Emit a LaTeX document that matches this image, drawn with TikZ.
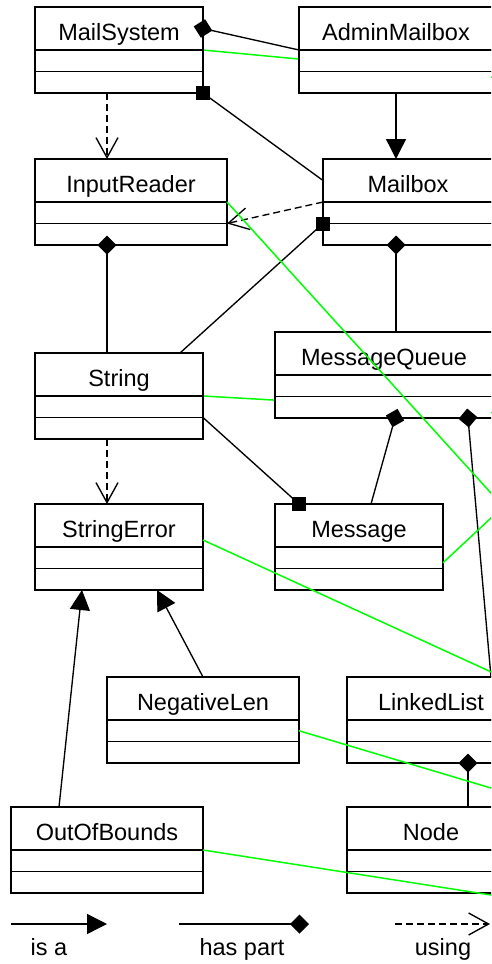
\documentclass[tikz,border=0pt]{standalone}
\usepackage{fontspec}
\setmainfont{Liberation Sans}
\usetikzlibrary{positioning,arrows.meta,backgrounds}

\begin{document}
\begin{tikzpicture}[x=1pt,y=-1pt,line width=1.35pt,font=\fontsize{23.5pt}{28pt}\selectfont,
    class/.style={draw,fill=white,inner sep=0pt,outer sep=0pt,minimum height=43pt,anchor=north west,text height=23pt,text depth=0pt},
    part/.style={draw,fill=white,inner sep=0pt,outer sep=0pt,minimum height=21.5pt},
    link/.style={green,line width=1.5pt},
    isa/.style={-{Triangle[length=20pt,width=20pt]}},
    partof/.style={-{Diamond[length=19pt,width=19pt]},shorten >=-9.5pt},
    sqtip/.style={fill=black,inner sep=0pt,minimum size=14pt,rectangle},
    uses/.style={dash pattern=on 7pt off 4pt,-{Straight Barb[length=20pt,width=22pt]}}]
      \useasboundingbox (0,0) rectangle (491,964);
      \clip (0,0) rectangle (491,964);

      \node[class,minimum width=168pt] (mailsys) at (35,7) {MailSystem};
      \node[part,minimum width=168pt,below=0pt of mailsys] (mailsys-at) {};
      \node[part,minimum width=168pt,below=0pt of mailsys-at] (mailsys-op) {};
      \node[class,minimum width=194pt] (admin) at (299,7) {AdminMailbox};
      \node[part,minimum width=194pt,below=0pt of admin] (admin-at) {};
      \node[part,minimum width=194pt,below=0pt of admin-at] (admin-op) {};
      \node[class,minimum width=192pt] (inread) at (35,159) {InputReader};
      \node[part,minimum width=192pt,below=0pt of inread] (inread-at) {};
      \node[part,minimum width=192pt,below=0pt of inread-at] (inread-op) {};
      \node[class,minimum width=170pt] (mbox) at (323,159) {Mailbox};
      \node[part,minimum width=170pt,below=0pt of mbox] (mbox-at) {};
      \node[part,minimum width=170pt,below=0pt of mbox-at] (mbox-op) {};
      \node[class,minimum width=168pt] (string) at (35,353) {String};
      \node[part,minimum width=168pt,below=0pt of string] (string-at) {};
      \node[part,minimum width=168pt,below=0pt of string-at] (string-op) {};
      \node[class,minimum width=218pt] (mqueue) at (275,332) {MessageQueue};
      \node[part,minimum width=218pt,below=0pt of mqueue] (mqueue-at) {};
      \node[part,minimum width=218pt,below=0pt of mqueue-at] (mqueue-op) {};
      \node[class,minimum width=168pt] (strerr) at (35,504) {StringError};
      \node[part,minimum width=168pt,below=0pt of strerr] (strerr-at) {};
      \node[part,minimum width=168pt,below=0pt of strerr-at] (strerr-op) {};
      \node[class,minimum width=168pt] (msg) at (275,504) {Message};
      \node[part,minimum width=168pt,below=0pt of msg] (msg-at) {};
      \node[part,minimum width=168pt,below=0pt of msg-at] (msg-op) {};
      \node[class,minimum width=192pt] (neglen) at (107,677) {NegativeLen};
      \node[part,minimum width=192pt,below=0pt of neglen] (neglen-at) {};
      \node[part,minimum width=192pt,below=0pt of neglen-at] (neglen-op) {};
      \node[class,minimum width=168pt] (llist) at (347,677) {LinkedList};
      \node[part,minimum width=168pt,below=0pt of llist] (llist-at) {};
      \node[part,minimum width=168pt,below=0pt of llist-at] (llist-op) {};
      \node[class,minimum width=192pt] (oob) at (11,807) {OutOfBounds};
      \node[part,minimum width=192pt,below=0pt of oob] (oob-at) {};
      \node[part,minimum width=192pt,below=0pt of oob-at] (oob-op) {};
      \node[class,minimum width=168pt] (node) at (347,807) {Node};
      \node[part,minimum width=168pt,below=0pt of node] (node-at) {};
      \node[part,minimum width=168pt,below=0pt of node-at] (node-op) {};

      \coordinate (far1) at (500,78);
      \coordinate (far2) at (500,413);
      \coordinate (far3) at (500,503);
      \coordinate (far4) at (500,509.6);
      \coordinate (far5) at (500,676);
      \coordinate (far6) at (500,790.7);
      \coordinate (far7) at (500,896.4);

      \begin{scope}[on background layer]
       \draw[link] (mailsys.south east) -- (far1);
       \draw[link] (string.south east) -- (far2);
      \end{scope}

      \draw[partof] (admin.south west) -- (mailsys.east);
      \draw[partof] ([xshift=-12pt]string.north) -- ([xshift=-12pt]string.north |- inread-op.south);
      \draw[partof] ([xshift=12pt]mqueue.north) -- ([xshift=12pt]mqueue.north |- mbox-op.south);
      \draw[partof] ([xshift=12pt]msg.north) -- ([xshift=11pt]mqueue-op.south);
      \draw[partof] ([xshift=60pt]llist.north) -- ([xshift=84pt]mqueue-op.south);
      \draw[partof] ([xshift=37pt]node.north) -- ([xshift=37pt]llist-op.south);

      \draw (mbox.west) -- (mailsys-op.south east) node[sqtip] (sq1) {};
      \draw ([xshift=-23pt]string.north east) -- (mbox-at.south west) node[sqtip] (sq2) {};
      \draw (string-op.north east) -- ([xshift=-60pt]msg.north) node[sqtip] (sq3) {};

      \draw[isa] (admin-op.south) -- (admin-op.south |- mbox.north);
      \draw[isa] (neglen.north) -- ([xshift=38pt]strerr-op.south);
      \draw[isa] ([xshift=-48pt]oob.north) -- ([xshift=-37pt]strerr-op.south);

      \draw[uses] ([xshift=-12pt]mailsys-op.south) -- ([xshift=-12pt]mailsys-op.south |- inread.north);
      \draw[uses] (mbox.south west) -- (inread-op.north east);
      \draw[uses] ([xshift=-12pt]string-op.south) -- ([xshift=-12pt]string-op.south |- strerr.north);

      \draw[link] (inread.south east) -- (far3);
      \draw[link] ([yshift=-5pt]msg-at.east) -- (far4);
      \draw[link] ([yshift=-14.5pt]strerr.east) -- (far5);
      \draw[link] (neglen-at.east) -- (far6);
      \draw[link] (oob.south east) -- (far7);

      \coordinate (isa-a) at (11,924);
      \coordinate (isa-b) at (107,924);
      \coordinate (has-a) at (179,924);
      \coordinate (has-b) at (309,924);
      \coordinate (use-a) at (395,924);
      \coordinate (use-b) at (490,924);
      \draw[isa] (isa-a) -- (isa-b);
      \draw[-{Diamond[length=19pt,width=19pt]}] (has-a) -- (has-b);
      \draw[uses] (use-a) -- (use-b);
      \node[anchor=base] (isa-txt) at (49,955) {is a};
      \node[anchor=base] (has-txt) at (242,955) {has part};
      \node[anchor=base] (use-txt) at (443,955) {using};
    \end{tikzpicture}
\end{document}
